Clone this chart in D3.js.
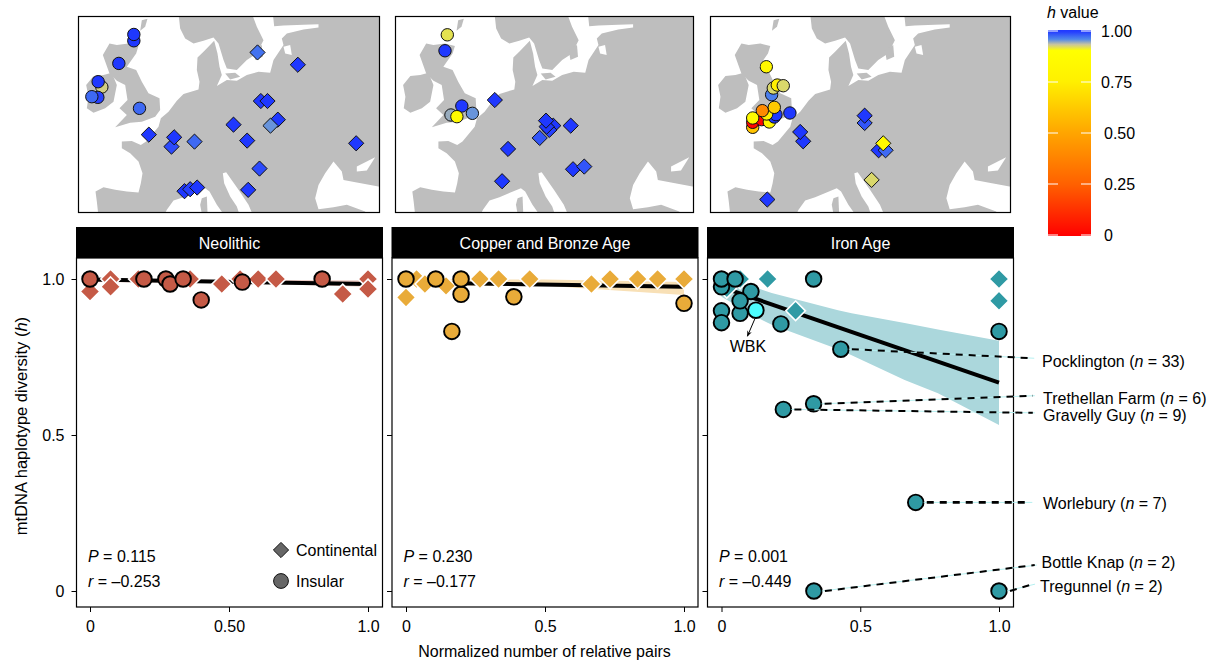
<!DOCTYPE html>
<html>
<head>
<meta charset="utf-8">
<script src="https://cdn.jsdelivr.net/npm/d3@7"></script>
<style>
  html, body { margin: 0; padding: 0; background: #fff; }
  text { font-family: "Liberation Sans", Arial, sans-serif; fill: #000; }
</style>
</head>
<body>
<div id="chart"></div>
<script>
/** Scatter data: [normalized relative pairs, h] */
const neoContinental = [[0, 0.96], [0.074, 1], [0.074, 0.975], [0.174, 1], [0.36, 1], [0.474, 0.984], [0.54, 1], [0.605, 1], [0.669, 1], [0.909, 0.952], [1, 1], [1, 0.968]];
const neoInsular = [[0, 1], [0.194, 1], [0.273, 1], [0.288, 0.984], [0.335, 1], [0.4, 0.933], [0.548, 0.99], [0.835, 1]];
const copperContinental = [[0, 0.941], [0.038, 1], [0.068, 0.984], [0.144, 0.978], [0.266, 1], [0.333, 1], [0.445, 1], [0.667, 0.984], [0.734, 1], [0.833, 1], [0.905, 1], [1, 1]];
const copperInsular = [[0, 1], [0.107, 1], [0.198, 0.951], [0.198, 1], [0.388, 0.943], [0.165, 0.832], [1, 0.922]];
const ironContinental = [[0.019, 0.97], [0.067, 1], [0.166, 1], [0.267, 0.898], [1, 1], [1, 0.93]];
const ironInsular = [[0, 0.975], [0, 1], [0.049, 1], [0.106, 0.96], [0.067, 0.89], [0, 0.898], [0, 0.86], [0.067, 0.93], [0.214, 0.856], [0.332, 1], [1, 0.832], [0.43, 0.775], [0.332, 0.6], [0.223, 0.582], [0.7, 0.284], [0.333, 0], [1, 0]];
const wbkPoint = [0.124, 0.9];

/** Regression lines and confidence bands: [x, h] and [x, low, high] */
const neoTrend = [[0, 0.998], [1, 0.984]];
const copperTrend = [[0, 0.989], [1, 0.975]];
const ironTrend = [[0, 0.974], [1, 0.668]];
const neoBand = [[0, 0.99, 1], [0.5, 0.987, 0.997], [1, 0.975, 0.995]];
const copperBand = [[0, 0.98, 1], [0.5, 0.978, 0.998], [1, 0.949, 0.99]];
const ironBand = [[0, 0.943, 1], [0.132, 0.875, 0.97], [0.181, 0.853, 0.955], [0.42, 0.775, 0.9], [0.469, 0.756, 0.89], [0.66, 0.676, 0.859], [0.78, 0.634, 0.838], [1, 0.532, 0.802]];

const panelNames = ["Neolithic", "Copper and Bronze Age", "Iron Age"];
const pValues = ["0.115", "0.230", "0.001"];
const rValues = ["–0.253", "–0.177", "–0.449"];
const xTicks = [0, 0.5, 1];
const xTickLabels = [["0", "0.50", "1.0"], ["0", "0.5", "1.0"], ["0", "0.5", "1.0"]];
const yTicks = [0, 0.5, 1];
const yTickLabels = ["0", "0.5", "1.0"];

/** Labelled sites of the Iron Age panel, the leader starts on the point */
const siteNames = ["Pocklington", "Trethellan Farm", "Gravelly Guy", "Worlebury", "Bottle Knap", "Tregunnel"];
const siteCounts = [33, 6, 9, 7, 2, 2];
const sitePoints = [[0.43, 0.775], [0.332, 0.6], [0.223, 0.582], [0.7, 0.284], [0.333, 0], [1, 0]];
const siteEnds = [[1.127, 0.746], [1.129, 0.626], [1.129, 0.571], [1.12, 0.284], [1.136, 0.083], [1.13, 0.022]];
const siteLabelH = [0.736, 0.618, 0.561, 0.282, 0.09, 0.013];
const siteLabelX = [1042, 1043, 1043, 1043, 1041.5, 1040];

/** Maps: [map x, map y, h], land outlines in the same map units */
const map1Insular = [[191, 92, 1], [191, 73, 1], [146, 160, 1], [95, 231, 0.925], [84, 215, 1], [83, 262, 0.99], [65, 260, 0.97], [208, 295, 0.97]];
const map1Continental = [[562, 127, 0.965], [683, 164, 1], [572, 273, 1], [592, 273, 1], [623, 329, 1], [601, 347, 0.95], [490, 344, 1], [531, 392, 1], [236, 374, 1], [304, 410, 0.985], [312, 382, 1], [373, 395, 0.97], [858, 400, 1], [568, 476, 0.985], [534, 540, 1], [343, 544, 1], [360, 538, 0.99], [381, 533, 1]];
const map2Insular = [[182, 74, 0.915], [175, 122, 1], [193, 315, 0.94], [258, 310, 0.95], [226, 288, 1], [211, 320, 0.85]];
const map2Continental = [[326, 270, 1], [366, 417, 1], [348, 514, 1], [462, 384, 0.98], [503, 347, 1], [491, 360, 0.99], [483, 350, 1], [481, 332, 1], [556, 347, 1], [563, 478, 1], [597, 470, 0.98]];
const map3Insular = [[152, 352, 0.6], [152, 337, 0.02], [179, 329, 0.02], [202, 336, 0.82], [217, 321, 1], [222, 314, 1], [194, 312, 0.75], [181, 302, 0.4], [152, 324, 0.85], [217, 292, 0.62], [264, 309, 1], [193, 170, 0.82], [209, 254, 0.96], [214, 234, 0.92], [226, 225, 0.75], [244, 227, 0.92]];
const map3Continental = [[489, 339, 0.98], [489, 317, 1], [304, 394, 1], [295, 366, 1], [531, 421, 1], [552, 421, 0.97], [545, 400, 0.85], [510, 510, 0.92], [196, 569, 1]];

const landContinent = [[85, 620], [80, 575], [76, 545], [100, 532], [135, 540], [170, 545], [205, 548], [212, 520], [217, 490], [205, 455], [180, 430], [155, 415], [155, 395], [185, 393], [212, 405], [228, 395], [265, 350], [272, 325], [295, 305], [320, 272], [340, 252], [385, 238], [388, 215], [380, 180], [382, 142], [400, 125], [432, 92], [442, 130], [448, 170], [455, 195], [440, 228], [470, 210], [500, 212], [530, 195], [565, 185], [600, 188], [610, 150], [640, 105], [635, 85], [650, 70], [700, 58], [745, 52], [745, 42], [700, 44], [640, 46], [612, 48], [608, 10], [940, 10], [940, 532], [925, 530], [860, 518], [820, 510], [815, 485], [790, 455], [765, 490], [745, 525], [735, 565], [745, 598], [790, 592], [830, 585], [885, 605], [890, 620], [550, 620], [535, 585], [505, 540], [468, 487], [458, 490], [462, 520], [480, 560], [500, 590], [510, 620], [465, 620], [440, 585], [418, 545], [405, 535], [340, 562], [310, 572], [290, 600], [280, 620]];
const landScandinavia = [[325, 10], [330, 55], [345, 85], [370, 100], [400, 92], [430, 82], [445, 100], [460, 150], [470, 175], [500, 180], [530, 150], [560, 130], [580, 90], [560, 50], [545, 10]];
const landBritain = [[118, 100], [140, 105], [175, 100], [205, 108], [198, 130], [170, 170], [198, 180], [215, 215], [235, 250], [268, 265], [270, 300], [255, 320], [215, 335], [180, 338], [135, 352], [170, 315], [148, 295], [172, 270], [165, 225], [140, 212], [118, 190], [98, 135]];
const landIreland = [[48, 225], [70, 198], [100, 195], [125, 188], [140, 225], [130, 275], [105, 295], [70, 308], [50, 295], [55, 260]];
const landOrkney = [[215, 30], [232, 26], [225, 50], [210, 62]];
const landCorsica = [[395, 565], [410, 560], [412, 608], [395, 612], [390, 585]];
const landGotland = [[550, 120], [575, 105], [578, 140], [555, 150]];
const landZealand = [[465, 190], [495, 188], [510, 200], [480, 208]];
const seaRiga = [[640, 110], [660, 105], [665, 135], [645, 130]];
const seaAzov = [[860, 470], [915, 442], [890, 482], [860, 485]];
const landShapes = [landContinent, landScandinavia, landBritain, landIreland, landOrkney, landCorsica, landGotland, landZealand];
const seaShapes = [seaRiga, seaAzov];

/** Colour bar */
const colorStops = [0, 0.25, 0.5, 0.63, 0.75, 0.9, 0.93, 0.955, 0.99, 1];
const colorValues = ["#ff0000", "#ff6000", "#ffa500", "#ffcc00", "#fff000", "#ffff00", "#c8c4a0", "#5088ea", "#2640ff", "#1f38ff"];
const barTicks = [0, 0.25, 0.5, 0.75, 1];
const barTickLabels = ["0", "0.25", "0.50", "0.75", "1.00"];

/** Layout */
const width = 1208;
const height = 663;
const fontSize = 16;
const panelLefts = [76.5, 392, 707.5];
const panelWidth = 306;
const panelTop = 258;
const panelBottom = 607;
const stripTop = 227;
const xZero = [90, 406, 721.5];
const xSpan = [278, 278, 277.5];
const mapBoxes = [[78.5, 379.5], [395.5, 693.5], [710.5, 1010.5]];
const mapTop = 16.5;
const mapBottom = 212.5;
const panelColors = ["#c55a46", "#e9ab39", "#2f9aa4"];
const bandColors = ["#eac3bb", "#f8e0b6", "#abd7dc"];

const heatColor = d3.scaleLinear().domain(colorStops).range(colorValues);
const yScale = d3.scaleLinear().domain([0, 1]).range([591, 279]);
const svg = d3.select("#chart").append("svg").attr("width", width).attr("height", height);
const defs = svg.append("defs");

const diamondPath = (r) => `M0,${-r}L${r},0L0,${r}L${-r},0Z`;

/** Draw one map box */
const drawMap = (index, insular, continental) => {
  const [left, right] = mapBoxes[index];
  const mapX = d3.scaleLinear().domain([25, 928]).range([left, right]);
  const mapY = d3.scaleLinear().domain([19, 608]).range([mapTop, mapBottom]);
  const outline = d3.line().x((d) => mapX(d[0])).y((d) => mapY(d[1]));

  defs.append("clipPath").attr("id", `map-clip-${index}`)
    .append("rect").attr("x", left).attr("y", mapTop).attr("width", right - left).attr("height", mapBottom - mapTop);

  const g = svg.append("g");
  const land = g.append("g").attr("clip-path", `url(#map-clip-${index})`);
  land.selectAll("path.land").data(landShapes).enter().append("path")
    .attr("class", "land").attr("d", (d) => outline(d) + "Z").attr("fill", "#bebebe");
  land.selectAll("path.sea").data(seaShapes).enter().append("path")
    .attr("class", "sea").attr("d", (d) => outline(d) + "Z").attr("fill", "#fff");

  g.append("rect").attr("x", left).attr("y", mapTop).attr("width", right - left).attr("height", mapBottom - mapTop)
    .attr("fill", "none").attr("stroke", "#000").attr("stroke-width", 1.2);

  g.selectAll("path.site").data(continental).enter().append("path")
    .attr("class", "site")
    .attr("d", diamondPath(7.6))
    .attr("transform", (d) => `translate(${mapX(d[0])},${mapY(d[1])})`)
    .attr("fill", (d) => heatColor(d[2]))
    .attr("stroke", "#111").attr("stroke-width", 1);
  g.selectAll("circle.site").data(insular).enter().append("circle")
    .attr("class", "site")
    .attr("cx", (d) => mapX(d[0])).attr("cy", (d) => mapY(d[1])).attr("r", 6.2)
    .attr("fill", (d) => heatColor(d[2]))
    .attr("stroke", "#111").attr("stroke-width", 1);
};

drawMap(0, map1Insular, map1Continental);
drawMap(1, map2Insular, map2Continental);
drawMap(2, map3Insular, map3Continental);

/** Draw one scatter panel */
const drawPanel = (index, continental, insular, trend, band) => {
  const left = panelLefts[index];
  const x = d3.scaleLinear().domain([0, 1]).range([xZero[index], xZero[index] + xSpan[index]]);
  const color = panelColors[index];
  const g = svg.append("g");

  g.append("rect").attr("x", left - 0.5).attr("y", stripTop).attr("width", panelWidth + 1).attr("height", panelTop - stripTop).attr("fill", "#000");
  g.append("text").attr("x", left + panelWidth / 2).attr("y", 248.5).attr("text-anchor", "middle")
    .attr("font-size", fontSize).style("fill", "#fff").text(panelNames[index]);

  g.append("path").datum(band)
    .attr("d", d3.area().x((d) => x(d[0])).y0((d) => yScale(d[1])).y1((d) => yScale(d[2])))
    .attr("fill", bandColors[index]);
  g.append("path").datum(trend)
    .attr("d", d3.line().x((d) => x(d[0])).y((d) => yScale(d[1])))
    .attr("fill", "none").attr("stroke", "#000").attr("stroke-width", 4);

  g.append("rect").attr("x", left).attr("y", panelTop).attr("width", panelWidth).attr("height", panelBottom - panelTop)
    .attr("fill", "none").attr("stroke", "#000").attr("stroke-width", 1.2);

  const axisX = d3.axisBottom(x).tickValues(xTicks).tickSize(5).tickPadding(9)
    .tickFormat((d, i) => xTickLabels[index][i]);
  const gx = g.append("g").attr("transform", `translate(0,${panelBottom})`).call(axisX);
  gx.select(".domain").remove();
  gx.selectAll("text").attr("font-size", fontSize);

  const axisY = d3.axisLeft(yScale).tickValues(yTicks).tickSize(5).tickPadding(7)
    .tickFormat((d, i) => (index === 0 ? yTickLabels[i] : ""));
  const gy = g.append("g").attr("transform", `translate(${left},0)`).call(axisY);
  gy.select(".domain").remove();
  gy.selectAll("text").attr("font-size", fontSize);

  g.selectAll("path.cont").data(continental).enter().append("path")
    .attr("class", "cont")
    .attr("d", diamondPath(9.8))
    .attr("transform", (d) => `translate(${x(d[0])},${yScale(d[1])})`)
    .attr("fill", color).attr("stroke", "#fff").attr("stroke-width", 1.6);
  g.selectAll("circle.ins").data(insular).enter().append("circle")
    .attr("class", "ins")
    .attr("cx", (d) => x(d[0])).attr("cy", (d) => yScale(d[1])).attr("r", 7.8)
    .attr("fill", color).attr("stroke", "#000").attr("stroke-width", 1.9);

  const stats = g.append("g").attr("font-size", fontSize);
  const pText = stats.append("text").attr("x", left + 11.5).attr("y", 561.5);
  pText.append("tspan").attr("font-style", "italic").text("P");
  pText.append("tspan").text(` = ${pValues[index]}`);
  const rText = stats.append("text").attr("x", left + 11.5).attr("y", 586.5);
  rText.append("tspan").attr("font-style", "italic").text("r");
  rText.append("tspan").text(` = ${rValues[index]}`);

  return { g, x };
};

drawPanel(0, neoContinental, neoInsular, neoTrend, neoBand);
drawPanel(1, copperContinental, copperInsular, copperTrend, copperBand);
const iron = drawPanel(2, ironContinental, ironInsular, ironTrend, ironBand);

/** WBK point and its arrow */
defs.append("marker").attr("id", "arrow-head").attr("viewBox", "0 0 10 10").attr("refX", 9).attr("refY", 5)
  .attr("markerWidth", 6).attr("markerHeight", 6).attr("orient", "auto")
  .append("path").attr("d", "M0,1L10,5L0,9L3,5Z").attr("fill", "#000");
iron.g.append("circle").attr("cx", iron.x(wbkPoint[0])).attr("cy", yScale(wbkPoint[1])).attr("r", 7.8)
  .attr("fill", "#4dfdfd").attr("stroke", "#000").attr("stroke-width", 1.9);
iron.g.append("line")
  .attr("x1", iron.x(wbkPoint[0]) - 1).attr("y1", yScale(wbkPoint[1]) + 8.5)
  .attr("x2", iron.x(wbkPoint[0]) - 8.5).attr("y2", yScale(wbkPoint[1]) + 26)
  .attr("stroke", "#000").attr("stroke-width", 1).attr("marker-end", "url(#arrow-head)");
iron.g.append("text").attr("x", iron.x(wbkPoint[0]) - 8).attr("y", yScale(wbkPoint[1]) + 41.5)
  .attr("text-anchor", "middle").attr("font-size", fontSize).text("WBK");

/** Leader lines and site labels */
sitePoints.forEach((point, i) => {
  const x1 = iron.x(point[0]);
  const y1 = yScale(point[1]);
  const x2 = iron.x(siteEnds[i][0]);
  const y2 = yScale(siteEnds[i][1]);
  iron.g.append("line").attr("x1", x1 + 8).attr("y1", y1).attr("x2", x2).attr("y2", y2)
    .attr("stroke", "#b6f0f0").attr("stroke-width", 1);
  iron.g.append("line").attr("x1", x1 + 11).attr("y1", y1).attr("x2", x2 - 2).attr("y2", y2)
    .attr("stroke", "#000").attr("stroke-width", i === 3 ? 2.8 : 2).attr("stroke-dasharray", "7 6");
  const label = iron.g.append("text").attr("x", siteLabelX[i]).attr("y", yScale(siteLabelH[i]) + 5.5).attr("font-size", fontSize);
  label.append("tspan").text(`${siteNames[i]} (`);
  label.append("tspan").attr("font-style", "italic").text("n");
  label.append("tspan").text(` = ${siteCounts[i]})`);
});

/** Shape legend */
const legend = svg.append("g");
legend.append("path").attr("d", diamondPath(7.6)).attr("transform", "translate(281,550)")
  .attr("fill", "#666").attr("stroke", "#111").attr("stroke-width", 1);
legend.append("text").attr("x", 296).attr("y", 555.5).attr("font-size", fontSize).text("Continental");
legend.append("circle").attr("cx", 281).attr("cy", 581).attr("r", 7.4)
  .attr("fill", "#666").attr("stroke", "#111").attr("stroke-width", 1);
legend.append("text").attr("x", 296).attr("y", 586.5).attr("font-size", fontSize).text("Insular");

/** Axis titles */
svg.append("text").attr("x", 544.5).attr("y", 656.5).attr("text-anchor", "middle").attr("font-size", fontSize)
  .text("Normalized number of relative pairs");
const yTitle = svg.append("text").attr("transform", "translate(27,426) rotate(-90)")
  .attr("text-anchor", "middle").attr("font-size", 16.5);
yTitle.append("tspan").text("mtDNA haplotype diversity (");
yTitle.append("tspan").attr("font-style", "italic").text("h");
yTitle.append("tspan").text(")");

/** Colour bar */
const barY = d3.scaleLinear().domain([0, 1]).range([235, 31]);
const gradient = defs.append("linearGradient").attr("id", "heat").attr("x1", 0).attr("x2", 0).attr("y1", 1).attr("y2", 0);
gradient.selectAll("stop").data(colorStops).enter().append("stop")
  .attr("offset", (d) => d).attr("stop-color", (d) => heatColor(d));
const bar = svg.append("g");
bar.append("rect").attr("x", 1048).attr("y", 30).attr("width", 43).attr("height", 206).attr("fill", "url(#heat)");
bar.selectAll("line.left").data(barTicks).enter().append("line")
  .attr("x1", 1048).attr("x2", 1058).attr("y1", (d) => barY(d)).attr("y2", (d) => barY(d))
  .attr("stroke", "#fff").attr("stroke-width", 1);
bar.selectAll("line.right").data(barTicks).enter().append("line")
  .attr("x1", 1081).attr("x2", 1091).attr("y1", (d) => barY(d)).attr("y2", (d) => barY(d))
  .attr("stroke", "#fff").attr("stroke-width", 1);
bar.selectAll("text.tick").data(barTicks).enter().append("text")
  .attr("class", "tick")
  .attr("x", (d, i) => (i < 3 ? 1104 : 1101))
  .attr("y", (d) => barY(d) + 6)
  .attr("font-size", fontSize)
  .text((d, i) => barTickLabels[i]);
const barTitle = bar.append("text").attr("x", 1047).attr("y", 18).attr("font-size", fontSize);
barTitle.append("tspan").attr("font-style", "italic").text("h");
barTitle.append("tspan").text(" value");
</script>
</body>
</html>
